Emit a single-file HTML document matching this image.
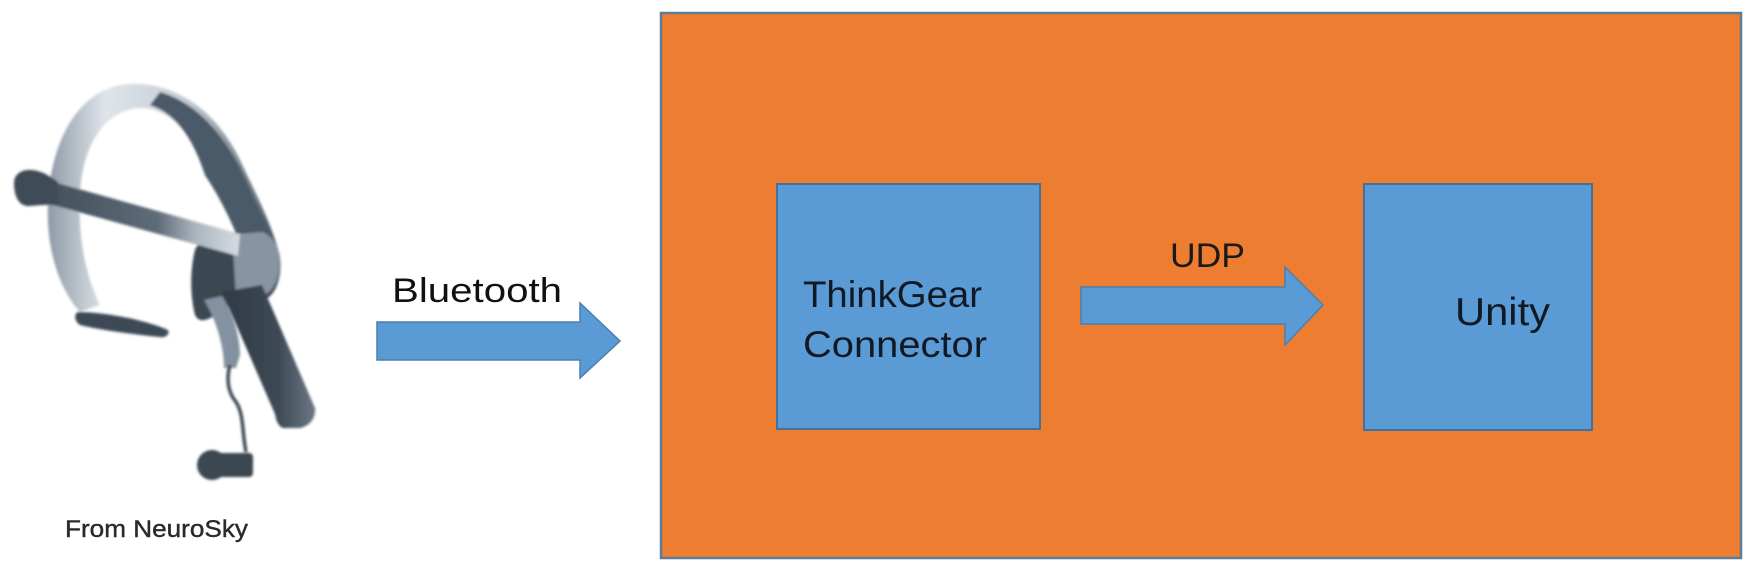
<!DOCTYPE html>
<html>
<head>
<meta charset="utf-8">
<style>
  html,body{margin:0;padding:0;background:#fff;}
  svg{display:block;}
  text{font-family:"Liberation Sans", sans-serif;}
</style>
</head>
<body>
<svg width="1748" height="570" viewBox="0 0 1748 570" xmlns="http://www.w3.org/2000/svg">
  <defs>
    <linearGradient id="ring" x1="0" y1="0" x2="1" y2="0">
      <stop offset="0" stop-color="#8e9aa6"/>
      <stop offset="0.25" stop-color="#dfe5ea"/>
      <stop offset="0.6" stop-color="#c4ccd4"/>
      <stop offset="1" stop-color="#56636f"/>
    </linearGradient>
    <linearGradient id="arm" x1="0" y1="0" x2="1" y2="0">
      <stop offset="0" stop-color="#46525e"/>
      <stop offset="0.55" stop-color="#5e6b78"/>
      <stop offset="0.75" stop-color="#aab4be"/>
      <stop offset="1" stop-color="#d6dce2"/>
    </linearGradient>
    <linearGradient id="handle" x1="0" y1="0" x2="1" y2="0">
      <stop offset="0" stop-color="#2f3a45"/>
      <stop offset="0.6" stop-color="#3d4955"/>
      <stop offset="1" stop-color="#6b7885"/>
    </linearGradient>
    <filter id="soft" x="-10%" y="-10%" width="120%" height="120%">
      <feGaussianBlur stdDeviation="1.2"/>
    </filter>
  </defs>

  <!-- Headset -->
  <g filter="url(#soft)">
    <!-- headband ring -->
    <path d="M80,312 C60,290 46,250 48,205 C50,140 80,86 130,84 C180,82 218,115 240,160 C258,198 272,225 278,250 L255,262 C240,230 222,200 205,175 C192,132 170,108 140,108 C103,110 80,150 80,200 C78,245 88,280 100,305 Z" fill="url(#ring)"/>
    <!-- dark right part of band -->
    <path d="M160,92 C205,105 235,150 255,200 C268,225 278,245 280,262 L250,270 C240,240 225,205 205,175 C195,145 180,115 150,105 Z" fill="#4c5a67"/>
    <!-- ear pad -->
    <path d="M78,312 C100,312 140,318 168,330 C170,335 165,338 160,337 C130,334 100,330 80,325 C74,321 74,314 78,312 Z" fill="#3d4954"/>
    <!-- body unit -->
    <path d="M195,250 C200,238 215,232 235,232 L262,232 C275,236 282,252 280,272 C278,290 270,300 258,302 L230,305 C210,320 200,325 195,315 C190,295 190,270 195,250 Z" fill="#3a4651"/>
    <path d="M232,234 L262,232 C275,236 281,252 279,270 C277,287 268,296 256,298 L236,296 Z" fill="#8794a1"/>
    <!-- handle -->
    <path d="M222,292 L262,285 L315,408 C316,418 310,426 300,428 L283,428 C278,426 276,420 275,414 Z" fill="url(#handle)"/>
    <!-- stalk near handle -->
    <path d="M204,300 L222,296 C232,312 240,335 240,355 L236,368 L224,368 C224,345 216,320 204,300 Z" fill="#8491a0"/>
    <!-- wire -->
    <path d="M230,365 C226,380 228,392 236,402 C244,414 242,432 246,452" stroke="#3e4a55" stroke-width="3.5" fill="none"/>
    <!-- earbud -->
    <circle cx="212" cy="465" r="15" fill="#3a4651"/>
    <rect x="212" y="453" width="41" height="24" rx="4" fill="#3a4651"/>
    <!-- sensor arm -->
    <path d="M57,183 L240,234 L238,256 L57,206 Z" fill="url(#arm)"/>
    <!-- knob -->
    <path d="M14,183 C14,174 22,169 32,170 C42,171 50,176 58,182 L58,206 C50,204 40,205 30,206 C20,207 14,198 14,183 Z" fill="#404c58"/>
  </g>
  <text x="65" y="537" font-size="24" fill="#2a2a2a" textLength="183" lengthAdjust="spacingAndGlyphs" stroke="#2a2a2a" stroke-width="0.4">From NeuroSky</text>

  <!-- Bluetooth arrow -->
  <text x="392" y="302" font-size="34" fill="#111" textLength="170" lengthAdjust="spacingAndGlyphs">Bluetooth</text>
  <polygon points="377,322 580,322 580,303 620,341 580,378 580,360 377,360" fill="#5B9BD5" stroke="#4a7fb0" stroke-width="1.5"/>

  <!-- Orange container -->
  <rect x="661" y="13" width="1080" height="545" fill="#ED7D31" stroke="#5f7d98" stroke-width="2.5"/>

  <!-- ThinkGear box -->
  <rect x="777" y="184" width="263" height="245" fill="#5B9BD5" stroke="#41719C" stroke-width="2"/>
  <text x="803" y="307" font-size="37" fill="#111a24" textLength="179" lengthAdjust="spacingAndGlyphs">ThinkGear</text>
  <text x="803" y="357" font-size="37" fill="#111a24" textLength="184" lengthAdjust="spacingAndGlyphs">Connector</text>

  <!-- UDP arrow -->
  <text x="1170" y="267" font-size="34" fill="#1a1a1a" textLength="75" lengthAdjust="spacingAndGlyphs">UDP</text>
  <polygon points="1081,287 1285,287 1285,267 1323,305 1285,345 1285,324 1081,324" fill="#5B9BD5" stroke="#4a7fb0" stroke-width="1.5"/>

  <!-- Unity box -->
  <rect x="1364" y="184" width="228" height="246" fill="#5B9BD5" stroke="#41719C" stroke-width="2"/>
  <text x="1455" y="325" font-size="39" fill="#111a24" textLength="95" lengthAdjust="spacingAndGlyphs">Unity</text>
</svg>
</body>
</html>
